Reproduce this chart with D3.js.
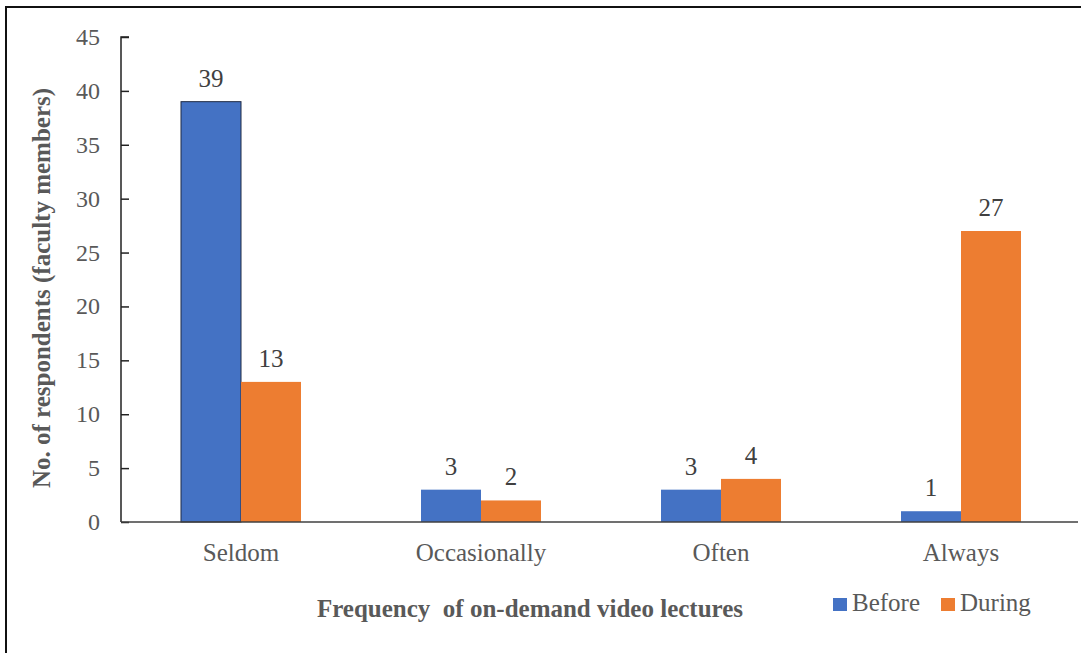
<!DOCTYPE html>
<html>
<head>
<meta charset="utf-8">
<script src="https://cdn.jsdelivr.net/npm/d3@7"></script>
<style>
  body { margin: 0; background: #fff; }
</style>
</head>
<body>
<svg id="chart" width="1081" height="653"></svg>
<script>
let categories = ["Seldom", "Occasionally", "Often", "Always"];
let seriesNames = ["Before", "During"];
let beforeValues = [39, 3, 3, 1];
let duringValues = [13, 2, 4, 27];
let yTicks = [0, 5, 10, 15, 20, 25, 30, 35, 40, 45];

let colors = { Before: "#4472C4", During: "#ED7D31" };
let serif = "'Liberation Serif', 'Times New Roman', Times, serif";

let svg = d3.select("#chart").attr("font-family", serif);

// outer frame (only left + top edges visible in the crop)
svg.append("path")
  .attr("d", "M6,653 V7 H1081")
  .attr("fill", "none")
  .attr("stroke", "#111")
  .attr("stroke-width", 2);

let plotLeft = 121, plotRight = 1081, plotTop = 37, plotBottom = 522;

let x = d3.scaleBand()
  .domain(categories)
  .range([plotLeft, plotRight])
  .paddingInner(0.5)
  .paddingOuter(0.25);

let xs = d3.scaleBand()
  .domain(seriesNames)
  .range([0, x.bandwidth()]);

let y = d3.scaleLinear().domain([0, 45]).range([plotBottom, plotTop]);

let rows = categories.map((c, i) => ({
  cat: c,
  vals: [
    { key: "Before", value: beforeValues[i], idx: i },
    { key: "During", value: duringValues[i], idx: i }
  ]
}));

let groups = svg.selectAll("g.cat")
  .data(rows)
  .enter()
  .append("g")
  .attr("class", "cat")
  .attr("transform", (d) => `translate(${x(d.cat)},0)`);

groups.selectAll("rect")
  .data((d) => d.vals)
  .enter()
  .append("rect")
  .attr("x", (d) => xs(d.key))
  .attr("y", (d) => y(d.value))
  .attr("width", xs.bandwidth())
  .attr("height", (d) => y(0) - y(d.value))
  .attr("fill", (d) => colors[d.key])
  .attr("stroke", (d) => (d.key === "Before" && d.idx === 0 ? "#1f2a44" : "none"))
  .attr("stroke-width", 1);

groups.selectAll("text.lbl")
  .data((d) => d.vals)
  .enter()
  .append("text")
  .attr("class", "lbl")
  .attr("x", (d) => xs(d.key) + xs.bandwidth() / 2)
  .attr("y", (d) => y(d.value) - 15)
  .attr("text-anchor", "middle")
  .attr("font-size", 25)
  .attr("fill", "#404040")
  .text((d) => d.value);

// y axis, ticks pointing inward
let yAxis = svg.append("g")
  .attr("transform", `translate(${plotLeft},0)`)
  .call(d3.axisRight(y).tickValues(yTicks).tickSize(8).tickFormat(""));
yAxis.select(".domain").attr("d", `M8,${plotTop}H0V${plotBottom}`).attr("stroke", "#222").attr("stroke-width", 1.5);
yAxis.selectAll(".tick line").attr("stroke", "#222").attr("stroke-width", 1.5);

svg.append("g")
  .selectAll("text")
  .data(yTicks)
  .enter()
  .append("text")
  .attr("x", 100)
  .attr("y", (d) => y(d) + 8)
  .attr("text-anchor", "end")
  .attr("font-size", 24)
  .attr("fill", "#595959")
  .text((d) => d);

// x axis line
svg.append("line")
  .attr("x1", plotLeft).attr("x2", 1078)
  .attr("y1", plotBottom).attr("y2", plotBottom)
  .attr("stroke", "#404040")
  .attr("stroke-width", 1.5);

svg.append("g")
  .selectAll("text")
  .data(categories)
  .enter()
  .append("text")
  .attr("x", (d) => x(d) + x.bandwidth() / 2)
  .attr("y", 561)
  .attr("text-anchor", "middle")
  .attr("font-size", 25)
  .attr("fill", "#595959")
  .text((d) => d);

// axis titles
svg.append("text")
  .attr("transform", "translate(50,288) rotate(-90)")
  .attr("text-anchor", "middle")
  .attr("font-size", 25)
  .attr("font-weight", "bold")
  .attr("fill", "#595959")
  .text("No. of respondents (faculty members)");

svg.append("text")
  .attr("x", 530)
  .attr("y", 617)
  .attr("text-anchor", "middle")
  .attr("font-size", 25)
  .attr("font-weight", "bold")
  .attr("fill", "#595959")
  .style("white-space", "pre")
  .text("Frequency  of on-demand video lectures");

// legend
let legend = svg.append("g").attr("transform", "translate(833,598)");
let lx = [0, 108];
seriesNames.forEach((s, i) => {
  legend.append("rect")
    .attr("x", lx[i]).attr("y", 0)
    .attr("width", 14).attr("height", 13)
    .attr("fill", colors[s]);
  legend.append("text")
    .attr("x", lx[i] + 19).attr("y", 13)
    .attr("font-size", 25)
    .attr("fill", "#595959")
    .text(s);
});
</script>
</body>
</html>
